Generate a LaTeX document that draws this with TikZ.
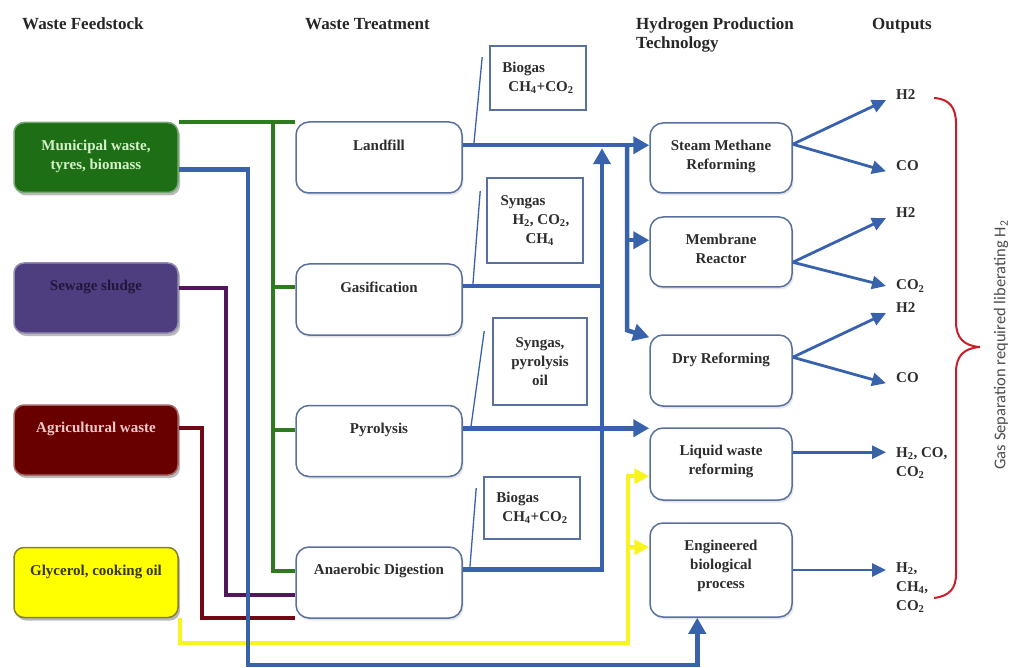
\documentclass[tikz,border=0pt]{standalone}
\usepackage{fontspec}
\setmainfont{Liberation Serif}
\newfontfamily\sidefont{Carlito}
\usepackage{tikz}
\usetikzlibrary{calc}
\usetikzlibrary{arrows.meta,shadows}

\definecolor{flowblue}{RGB}{56,98,172}
\definecolor{boxedge}{RGB}{88,112,158}
\definecolor{darktext}{RGB}{45,45,45}
\definecolor{muniC}{RGB}{30,110,22}
\definecolor{muniT}{RGB}{212,240,200}
\definecolor{sewC}{RGB}{78,62,128}
\definecolor{sewT}{RGB}{35,22,58}
\definecolor{agriC}{RGB}{105,0,0}
\definecolor{agriT}{RGB}{240,200,200}
\definecolor{glycC}{RGB}{255,255,0}
\definecolor{glycE}{RGB}{130,130,50}
\definecolor{glycT}{RGB}{55,55,0}
\definecolor{greenline}{RGB}{46,122,30}
\definecolor{purpleline}{RGB}{82,22,92}
\definecolor{redline}{RGB}{112,8,22}
\definecolor{yellowline}{RGB}{250,244,30}
\definecolor{braceC}{RGB}{200,30,42}

\begin{document}
\begin{tikzpicture}[x=1pt,y=-1pt,
    feed/.style={rounded corners=10pt, line width=1.5pt, minimum width=164pt, minimum height=70pt,
        drop shadow={shadow xshift=2pt, shadow yshift=-3pt, opacity=0.45, fill=black!60}},
    treat/.style={draw=boxedge, fill=white, rounded corners=13pt, line width=1.5pt,
        minimum width=166pt, minimum height=71pt,
        drop shadow={shadow xshift=1.5pt, shadow yshift=-2.5pt, opacity=0.2, fill=black!50}},
    tech/.style={treat, minimum width=142pt, minimum height=70pt},
    gasbox/.style={draw=boxedge, fill=white, line width=1.6pt, minimum width=96pt, inner sep=0pt,
        align=left, text=darktext, font=\fontsize{15}{19}\selectfont\bfseries},
    boxtext/.style={anchor=north, inner sep=0pt, align=center, text=darktext,
        font=\fontsize{15}{19}\selectfont\bfseries},
    head/.style={inner sep=0pt, align=left, text=black!85, font=\fontsize{17}{19}\selectfont\bfseries},
    outtext/.style={inner xsep=10pt, inner ysep=0pt, align=left, text=darktext,
        font=\fontsize{15}{19}\selectfont\bfseries},
    bluebar/.style={flowblue, line width=4.5pt},
    bluearr/.style={bluebar, -{Triangle[length=16pt,width=17pt]}},
    outarr/.style={flowblue, line width=2.8pt, -{Triangle[length=14pt,width=13pt]}},
    callout/.style={flowblue, line width=1.3pt},
    feedline/.style={#1, line width=4pt},
    yellowarr/.style={feedline=yellowline, -{Triangle[length=15pt,width=15pt]}}
  ]
  \useasboundingbox (0,0) rectangle (1009,668);
  \def\toff{18} % first text line below a box top

  % Column headings
  \node[head, anchor=base west] (hfeed) at (22,29.5) {Waste Feedstock};
  \node[head, anchor=base west] (htreat) at (305,29.5) {Waste Treatment};
  \node[head, anchor=north west] (htech) at (636,18) {Hydrogen Production\\Technology};
  \node[head, anchor=base west] (hout) at (872,29.5) {Outputs};

  % Feedstock boxes
  \node[feed, fill=muniC, draw=muniC!60!white] (muni) at (96,157.5) {};
  \node[feed, fill=sewC, draw=sewC!60!white] (sew) at (96,298) {};
  \node[feed, fill=agriC, draw=agriC!60!white] (agri) at (96,440) {};
  \node[feed, fill=glycC, draw=glycE] (glyc) at (96,582.5) {};
  \node[boxtext, text=muniT] (munitxt) at ($(muni.north)+(0,\toff)$) {Municipal waste,\\tyres, biomass};
  \node[boxtext, text=sewT] (sewtxt) at ($(sew.north)+(0,\toff)$) {Sewage sludge};
  \node[boxtext, text=agriT] (agritxt) at ($(agri.north)+(0,\toff)$) {Agricultural waste};
  \node[boxtext, text=glycT] (glyctxt) at ($(glyc.north)+(0,\toff)$) {Glycerol, cooking oil};

  % Treatment boxes
  \node[treat] (landfill) at (379,157.5) {};
  \node[treat] (gasif) at (379,299.5) {};
  \node[treat] (pyro) at (379,441) {};
  \node[treat] (anaer) at (379,582.5) {};
  \node[boxtext] (lftxt) at ($(landfill.north)+(0,\toff)$) {Landfill};
  \node[boxtext] (gastxt) at ($(gasif.north)+(0,\toff)$) {Gasification};
  \node[boxtext] (pytxt) at ($(pyro.north)+(0,\toff)$) {Pyrolysis};
  \node[boxtext] (adtxt) at ($(anaer.north)+(0,\toff)$) {Anaerobic Digestion};

  % Intermediate gas boxes
  \node[gasbox, minimum height=64pt] (bio1) at (538,78) {Biogas\\\hspace*{6pt}CH\textsubscript{4}+CO\textsubscript{2}};
  \node[gasbox, minimum height=85pt] (syn1) at (535,220.5) {Syngas\\\hspace*{12pt}H\textsubscript{2}, CO\textsubscript{2},\\\hspace*{25pt}CH\textsubscript{4}};
  \node[gasbox, minimum width=94pt, minimum height=87pt, align=center] (syn2) at (540,361.5) {Syngas,\\pyrolysis\\oil};
  \node[gasbox, minimum height=62pt] (bio2) at (532,508) {Biogas\\\hspace*{6pt}CH\textsubscript{4}+CO\textsubscript{2}};

  % Hydrogen production boxes
  \node[tech] (smr) at (721,158) {};
  \node[tech] (memb) at (721,252) {};
  \node[tech, minimum height=71pt] (dry) at (721,370.5) {};
  \node[tech, minimum height=72pt] (liquid) at (721,464) {};
  \node[tech, minimum height=94pt] (eng) at (721,570) {};
  \node[boxtext] (smrtxt) at ($(smr.north)+(0,\toff)$) {Steam Methane\\Reforming};
  \node[boxtext] (membtxt) at ($(memb.north)+(0,\toff)$) {Membrane\\Reactor};
  \node[boxtext] (drytxt) at ($(dry.north)+(0,\toff)$) {Dry Reforming};
  \node[boxtext] (liqtxt) at ($(liquid.north)+(0,\toff)$) {Liquid waste\\reforming};
  \node[boxtext] (engtxt) at ($(eng.north)+(0,\toff)$) {Engineered\\biological\\process};

  % Outputs
  \node[outtext, anchor=west] (h2a) at (886,95) {H2};
  \node[outtext, anchor=west] (coa) at (886,166) {CO};
  \node[outtext, anchor=west] (h2b) at (886,213) {H2};
  \node[outtext, anchor=west] (co2b) at (886,286) {CO\textsubscript{2}};
  \node[outtext, anchor=west] (h2c) at (886,308) {H2};
  \node[outtext, anchor=west] (coc) at (886,378) {CO};
  \node[outtext, anchor=north west] (liqout) at (886,447.5) {H\textsubscript{2}, CO,\\CO\textsubscript{2}};
  \node[outtext, anchor=north west] (engout) at (886,562.5) {H\textsubscript{2},\\CH\textsubscript{4},\\CO\textsubscript{2}};

  % Bus lines and ports
  \coordinate (gbus) at (273,0);
  \coordinate (bbus) at (248,665);
  \coordinate (pbus) at (226,595);
  \coordinate (rbus) at (202,618);
  \coordinate (riser) at (602,0);
  \coordinate (dist) at (627,0);
  \coordinate (ybus) at (628,643);
  \coordinate (lfout) at ($(landfill.north east)+(0,24)$);
  \coordinate (gasout) at ($(gasif.north east)+(0,23)$);
  \coordinate (pyout) at ($(pyro.north east)+(0,23.5)$);
  \coordinate (adout) at ($(anaer.north east)+(0,23)$);
  \coordinate (gasin) at ($(gasif.north west)+(0,24)$);
  \coordinate (pyin) at ($(pyro.north west)+(0,25)$);
  \coordinate (adin) at ($(anaer.north west)+(0,25)$);
  \coordinate (membin) at ($(memb.north west)+(0,24)$);
  \coordinate (liqyel) at ($(liquid.north west)+(0,49)$);
  \coordinate (engyel) at ($(eng.north west)+(0,25)$);
  \coordinate (engbot) at ($(eng.south west)+(48,0)$);

  % Green feed to all treatments
  \draw[feedline=greenline] (muni.north east) -- (muni.north east -| landfill.west);
  \draw[feedline=greenline] (gbus |- muni.north) -- (gbus |- adin) -- (adin);
  \draw[feedline=greenline] (gbus |- gasin) -- (gasin);
  \draw[feedline=greenline] (gbus |- pyin) -- (pyin);

  % Sewage and agricultural feed to digestion
  \draw[feedline=purpleline] ($(sew.north east)+(0,26)$) -| (pbus) -- (pbus -| anaer.west);
  \draw[feedline=redline] ($(agri.north east)+(0,24)$) -| (rbus) -- (rbus -| anaer.west);

  % Yellow feed to liquid and biological
  \draw[yellowarr] ($(glyc.south east)+(1,0)$) |- (ybus) |- (liqyel);
  \draw[yellowarr] (ybus |- engyel) -- (engyel);

  % Blue feed bus
  \draw[bluebar] ($(sew.north east)+(0,48)$) -- ($(sew.north east)+(0,48)$ -| bbus);
  \draw[bluebar] ($(agri.north east)+(0,47)$) -- ($(agri.north east)+(0,47)$ -| bbus);
  \draw[bluebar] ($(glyc.north east)+(0,25)$) -- ($(glyc.north east)+(0,25)$ -| bbus);
  \draw[bluearr] ($(muni.north east)+(0,48)$) -| (bbus) -| (engbot);

  % Treatment products to hydrogen production
  \draw[bluearr] (lfout) -- (lfout -| smr.west);
  \draw[bluebar] (gasout) -- (gasout -| riser);
  \draw[bluearr] (adout) -| ($(riser |- lfout)+(0,3)$);
  \draw[bluearr] (pyout) -- (pyout -| liquid.west);
  \draw[bluearr] (dist |- lfout) -- ($(dist |- dry.north)+(0,-4)$) -- ($(dry.north west)+(0,3)$);
  \draw[bluearr] (dist |- membin) -- (membin);

  % Callouts
  \draw[callout] ($(bio1.north west)+(-7,12)$) -- ($(lfout)+(11,0)$);
  \draw[callout] ($(syn1.north west)+(-6,14)$) -- ($(gasout)+(10,0)$);
  \draw[callout] ($(syn2.north west)+(-8,14)$) -- ($(pyout)+(8,0)$);
  \draw[callout] ($(bio2.north west)+(-7,12)$) -- ($(adout)+(7,0)$);

  % Output arrows
  \coordinate (smrfork) at ($(smr.north east)+(0,22)$);
  \coordinate (memfork) at ($(memb.north east)+(0,46)$);
  \coordinate (dryfork) at ($(dry.north east)+(0,23)$);
  \coordinate (liqfork) at ($(liquid.north east)+(0,25)$);
  \draw[outarr] (smrfork) -- (h2a.south west);
  \draw[outarr] (smrfork) -- (coa.south west);
  \draw[outarr] (memfork) -- (h2b.south west);
  \draw[outarr] (memfork) -- (co2b.west);
  \draw[outarr] (dryfork) -- (h2c.south west);
  \draw[outarr] (dryfork) -- (coc.south west);
  \draw[outarr] (liqfork) -- (liqout.west |- liqfork);
  \draw[outarr] (eng.east) -- (engout.west |- eng.east);

  % Brace and gas separation note
  \draw[braceC, line width=2pt] (934,98) .. controls (950,99) and (956,108) .. (956,124)
    -- (956,322) .. controls (956,338) and (964,346) .. (980,347)
    .. controls (964,348) and (956,356) .. (956,372)
    -- (956,574) .. controls (956,588) and (950,596) .. (934,598);
  \node[rotate=90, inner sep=0pt, text=black!70, font=\sidefont\fontsize{16.5}{18}\selectfont] (gassep)
    at (1001,345) {Gas Separation required liberating H\textsubscript{2}};
\end{tikzpicture}
\end{document}
